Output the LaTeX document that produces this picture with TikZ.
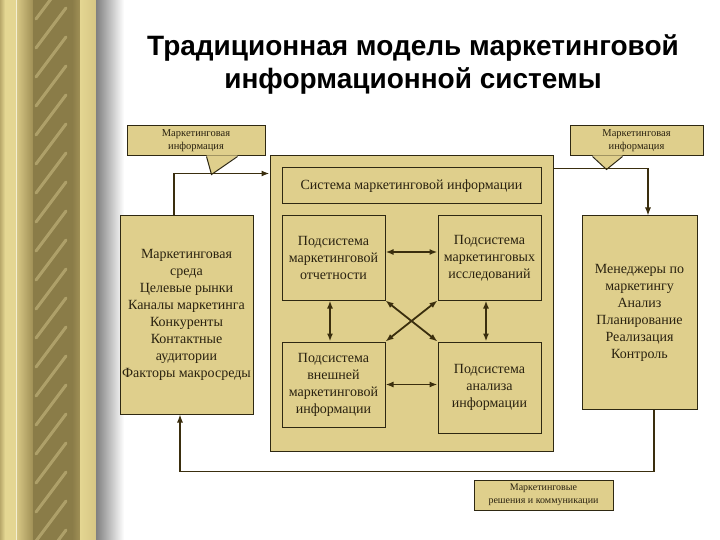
\documentclass[tikz,border=0pt]{standalone}
\usepackage{fontspec}
\setmainfont{Liberation Serif}
\newfontfamily\titlefont{Liberation Sans}
\usetikzlibrary{arrows.meta,calc}
\definecolor{boxfill}{HTML}{DFCF8C}
\definecolor{boxline}{HTML}{2E2812}
\definecolor{arrowc}{HTML}{3A2E0E}
\definecolor{txt}{HTML}{2A2210}
\definecolor{Pa}{HTML}{B8A86A}
\definecolor{Pb}{HTML}{E4D692}
\definecolor{Pc}{HTML}{A09056}
\definecolor{Pd}{HTML}{8A7C48}
\definecolor{Pe}{HTML}{B2A266}
\definecolor{Pf}{HTML}{D6C684}
\definecolor{streak}{HTML}{E6D89C}
\begin{document}
\begin{tikzpicture}[x=1pt,y=-1pt,
  box/.style={draw=boxline,fill=boxfill,line width=1pt,inner sep=2pt,align=center,text=txt,font=\fontsize{14}{17}\selectfont},
  callout/.style={draw=boxline,fill=boxfill,line width=1pt,inner sep=1pt,align=center,text=txt,font=\fontsize{10.5}{13}\selectfont},
  flow/.style={draw=arrowc,line width=1.3pt},
  dbl/.style={draw=arrowc,line width=1.8pt,{Latex[length=8pt,width=6pt]}-{Latex[length=8pt,width=6pt]}},
  tip/.style={-{Latex[length=8pt,width=6pt]}}]
\useasboundingbox (0,0) rectangle (720,540);
\fill[white] (0,0) rectangle (720,540);
% decorative pillar
\shade[left color=Pa,right color=Pb] (0,0) rectangle (5,540);
\fill[Pb] (5,0) rectangle (17,540);
\draw[white!60!Pb,line width=0.8pt] (16,0) -- (16,540);
\shade[left color=Pf,right color=Pc] (17,0) rectangle (33,540);
\shade[left color=Pd,middle color=Pe,right color=Pd] (33,0) rectangle (72,540);
\begin{scope}
  \clip (33,0) rectangle (72,540);
  \foreach \yy in {-40,-11,...,580}
    \draw[streak,opacity=0.4,line width=3pt,line cap=round] (36,\yy+30) -- (66,\yy-10);
\end{scope}
\shade[left color=Pd,right color=Pc] (72,0) rectangle (80,540);
\shade[left color=Pb,right color=Pf] (80,0) rectangle (96,540);
\shade[left color=black!50,right color=white] (96,0) rectangle (124,540);
% title
\node[font=\titlefont\bfseries\fontsize{28}{33}\selectfont,align=center,text=black] (title) at (413,64)
  {Традиционная модель маркетинговой\\информационной системы};
% big system box
\node[box,minimum width=283pt,minimum height=295pt] (big) at (411.5,303.5) {};
\node[box,minimum width=259pt,minimum height=36pt] (hdr) at (411.5,186) {Система маркетинговой информации};
\node[box,minimum width=103pt,minimum height=84pt] (tl) at (333.5,258) {Подсистема\\маркетинговой\\отчетности};
\node[box,minimum width=103pt,minimum height=84pt] (tr) at (489.5,258) {Подсистема\\маркетинговых\\исследований};
\node[box,minimum width=103pt,minimum height=85pt] (bl) at (333.5,384.5) {Подсистема\\внешней\\маркетинговой\\информации};
\node[box,minimum width=103pt,minimum height=91pt] (br) at (489.5,387.5) {Подсистема\\анализа\\информации};
% side boxes
\node[box,minimum width=133pt,minimum height=198pt,inner sep=0pt] (left) at (186.5,315)
  {Маркетинговая\\среда\\Целевые рынки\\Каналы маркетинга\\Конкуренты\\Контактные\\аудитории\\Факторы макросреды};
\node[box,minimum width=115pt,minimum height=193pt] (right) at (639.5,312.5)
  {Менеджеры по\\маркетингу\\Анализ\\Планирование\\Реализация\\Контроль};
% callouts
\node[callout,minimum width=138pt,minimum height=30pt] (lc) at (196,141) {Маркетинговая\\информация};
\fill[boxfill] ($(lc.south west)+(80,-1)$) -- ($(lc.south west)+(85,18)$) -- ($(lc.south west)+(111,-1)$) -- cycle;
\draw[boxline,line width=1pt] ($(lc.south west)+(80,0)$) -- ($(lc.south west)+(85,18)$) -- ($(lc.south west)+(111,0)$);
\node[callout,minimum width=133pt,minimum height=30pt] (rc) at (636.5,141) {Маркетинговая\\информация};
\fill[boxfill] ($(rc.south west)+(23,-1)$) -- ($(rc.south west)+(37,13)$) -- ($(rc.south west)+(53,-1)$) -- cycle;
\draw[boxline,line width=1pt] ($(rc.south west)+(23,0)$) -- ($(rc.south west)+(37,13)$) -- ($(rc.south west)+(53,0)$);
\node[callout,minimum width=139pt,minimum height=30pt,font=\fontsize{10}{12.5}\selectfont] (bc) at (543.5,495) {Маркетинговые\\решения и коммуникации};
% connectors
\draw[flow,line width=1.8pt,tip] ($(left.north)+(-12.5,0)$) |- ($(big.north west)+(0,18)$);
\draw[flow,tip] ($(big.north east)+(0,13)$) -| ($(right.north)+(8.5,0)$);
\draw[flow,tip] ($(right.south)+(14.5,0)$) -- ++(0,62) -| ($(left.south)+(-6.5,0)$);
\draw[dbl] ($(tl.east)+(0,-6)$) -- ($(tr.west)+(0,-6)$);
\draw[dbl] (bl.east) -- (bl.east -| br.west);
\draw[dbl] ($(tl.south)+(-3.5,0)$) -- ($(bl.north)+(-3.5,0)$);
\draw[dbl] ($(tr.south)+(-3.5,0)$) -- ($(br.north)+(-3.5,0)$);
\draw[dbl] (tl.south east) -- (br.north west);
\draw[dbl] (tr.south west) -- (bl.north east);
\end{tikzpicture}
\end{document}
